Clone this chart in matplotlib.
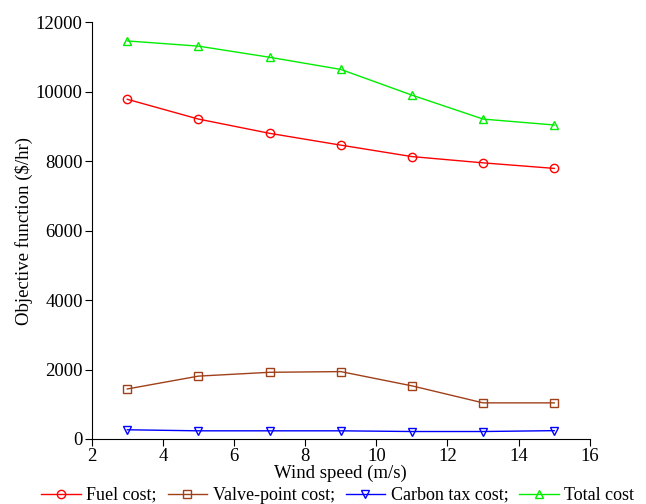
import matplotlib
matplotlib.use("Agg")
import matplotlib.pyplot as plt

plt.rcParams['font.family'] = ['Liberation Serif', 'DejaVu Serif']
plt.rcParams['font.size'] = 13

wind_speed = [3, 5, 7, 9, 11, 13, 15]
fuel_cost = [9780, 9210, 8800, 8460, 8130, 7950, 7790]
valve_point_cost = [1440, 1810, 1920, 1940, 1530, 1040, 1040]
carbon_tax_cost = [265, 235, 235, 235, 215, 215, 240]
total_cost = [11460, 11310, 10990, 10640, 9900, 9210, 9040]

fig = plt.figure(figsize=(6.46, 5.04), dpi=100)
ax = fig.add_axes([0.142, 0.129, 0.771, 0.827])

ms = 6
mew = 1.0
ax.plot(wind_speed, fuel_cost, color='#ff0000', marker='o', mfc='none', ms=ms, mew=mew, lw=1.0, label='Fuel cost;')
ax.plot(wind_speed, valve_point_cost, color='#a0401a', marker='s', mfc='none', ms=ms, mew=mew, lw=1.0, label='Valve-point cost;')
ax.plot(wind_speed, carbon_tax_cost, color='#0000ff', marker='v', mfc='none', ms=ms, mew=mew, lw=1.0, label='Carbon tax cost;')
ax.plot(wind_speed, total_cost, color='#00ee00', marker='^', mfc='none', ms=ms, mew=mew, lw=1.0, label='Total cost')

ax.set_xlim(2, 16)
ax.set_ylim(0, 12000)
ax.set_xticks(range(2, 17, 2))
ax.set_yticks(range(0, 12001, 2000))
ax.spines['top'].set_visible(False)
ax.spines['right'].set_visible(False)
ax.tick_params(direction='out', length=5, labelsize=13.5, pad=1.5)

ax.set_xlabel('Wind speed (m/s)', fontsize=13.5, labelpad=0)
ax.set_ylabel('Objective function ($/hr)', fontsize=13.5, labelpad=2)

ax.legend(loc='upper center', bbox_to_anchor=(0.494, -0.115), ncol=4, frameon=False,
          fontsize=13, handlelength=2.2, columnspacing=0.6, handletextpad=0.3,
          borderaxespad=0, borderpad=0)

fig.savefig('out.png', dpi=100)
